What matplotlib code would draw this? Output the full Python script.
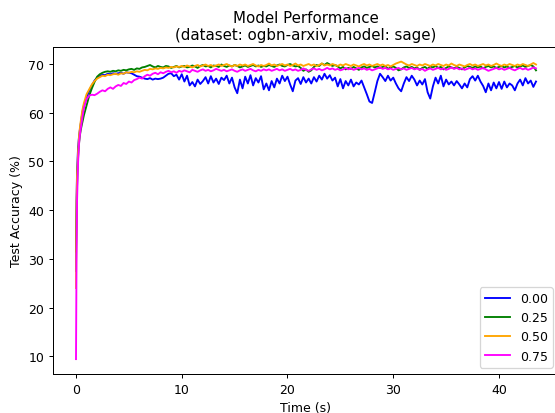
import numpy as np
import matplotlib
matplotlib.use('Agg')
import matplotlib.pyplot as plt

# time stamps (s): dense at start, then every 0.25 s
t_early = [0.0, 0.05, 0.1, 0.2, 0.3, 0.4, 0.5, 0.6, 0.75, 1.0, 1.25, 1.5, 1.75]
t_rest = np.arange(2.0, 43.51, 0.25)
times = np.concatenate([t_early, t_rest])

labels = ['0.00', '0.25', '0.50', '0.75']
colors = ['blue', 'green', 'orange', 'magenta']

acc_000 = [27.5, 42.0, 48.0, 53.0, 55.5, 57.0, 58.5, 60.0, 61.5, 63.2, 64.5, 65.6, 66.6,
           67.2, 67.5, 67.8, 67.7, 68.0, 67.9, 68.1, 68.0,
           68.1, 68.2, 68.0, 68.3, 68.2, 68.1, 67.8, 67.5,
           67.4, 67.2, 67.0, 66.9, 67.1, 66.8, 67.0, 66.9,
           67.0, 67.2, 67.6, 68.0, 68.1, 67.5, 67.8, 66.8,
           67.9, 66.4, 67.6, 65.6, 66.3, 65.4, 66.8, 65.9,
           66.5, 67.3, 66.0, 67.5, 66.2, 67.0, 65.9, 67.2,
           66.7, 67.6, 66.0, 67.2, 65.2, 64.0, 66.8, 65.0,
           67.4, 66.0, 67.7, 65.6, 67.1, 66.2, 67.5, 64.8,
           66.0, 64.6, 66.5, 65.2, 67.0, 66.0, 67.6, 66.5,
           67.4, 65.8, 64.4, 66.6, 67.1, 65.9, 67.3, 66.2,
           67.0, 66.0, 67.3, 66.4, 67.6, 66.8, 68.0, 67.0,
           67.7, 66.6, 67.2, 65.4, 66.9, 65.0, 66.5, 65.6,
           66.8, 65.4, 66.2, 65.8, 66.6, 65.2, 63.8, 62.3,
           62.0, 64.2, 66.5, 68.0, 67.3, 66.5, 67.6, 66.6,
           67.2, 66.0, 65.0, 64.4, 66.0, 67.3, 66.5, 67.6,
           66.8, 65.6, 66.6, 65.8, 66.9, 64.2, 62.9, 65.4,
           67.2, 66.0, 67.6, 65.4, 66.8, 65.8, 66.4, 65.6,
           66.5, 65.8, 65.0, 66.0, 65.2, 66.9, 67.5, 66.6,
           67.6, 66.4, 65.5, 64.2, 66.0, 64.6, 66.2, 65.0,
           66.3, 64.9, 66.4, 65.2, 66.0, 65.6, 64.6, 66.0,
           66.8, 65.6, 67.1, 66.0, 66.6, 65.3, 66.4]

acc_025 = [31.5, 38.0, 45.0, 51.0, 54.0, 55.8, 57.0, 58.0, 59.5, 61.5, 63.5, 65.0, 66.3,
           67.4, 67.9, 68.2, 68.4, 68.5, 68.4, 68.6, 68.5,
           68.7, 68.6, 68.8, 68.7, 68.9, 69.0, 68.8, 69.1,
           69.0, 69.3, 69.4, 69.6, 69.8, 69.5, 69.3, 69.6,
           69.4, 69.3, 69.6, 69.5, 69.2, 69.4, 69.6, 69.3,
           69.5, 69.6, 69.3, 69.4, 69.7, 69.5, 69.2, 69.6,
           69.8, 69.5, 69.6, 69.3, 69.7, 69.6, 69.4, 69.9,
           69.6, 69.4, 69.7, 69.5, 69.8, 69.6, 69.3, 69.5,
           69.7, 69.4, 69.6, 69.8, 69.5, 69.7, 69.4, 69.6,
           69.5, 69.8, 69.6, 69.4, 69.7, 69.9, 69.6, 69.5,
           69.8, 70.0, 69.7, 69.5, 69.6, 69.2, 68.6, 68.9,
           68.4, 68.7, 69.4, 69.8, 69.6, 70.1, 69.8, 70.2,
           69.9, 69.6, 69.8, 69.5, 69.1, 69.4, 68.9, 69.2,
           69.0, 69.4, 69.1, 68.8, 69.3, 69.5, 69.2, 69.4,
           69.6, 69.3, 69.5, 69.2, 69.4, 69.6, 69.0, 69.3,
           69.5, 69.2, 68.7, 68.9, 69.3, 69.5, 69.2, 69.4,
           69.1, 69.3, 68.8, 69.2, 69.4, 69.0, 69.5, 69.3,
           69.6, 69.2, 69.4, 68.9, 69.2, 69.5, 69.3, 69.1,
           69.4, 69.2, 68.9, 69.3, 69.6, 69.4, 69.2, 69.5,
           69.3, 69.5, 69.1, 69.4, 69.6, 69.3, 69.5, 69.2,
           69.4, 69.6, 69.3, 69.5, 69.2, 69.4, 69.6, 69.3,
           69.5, 69.7, 69.4, 69.6, 69.8, 69.5, 68.7]

acc_050 = [24.0, 41.5, 47.0, 52.0, 55.5, 57.5, 59.0, 60.5, 62.0, 63.8, 64.8, 65.8, 66.5,
           67.0, 67.3, 67.6, 67.5, 67.8, 67.7, 67.9, 68.0,
           67.8, 68.1, 68.0, 68.3, 68.2, 68.4, 68.3, 68.5,
           68.4, 68.6, 68.8, 68.7, 69.0, 68.9, 69.1, 69.0,
           69.2, 69.1, 69.3, 69.2, 69.4, 69.3, 69.5, 69.4,
           69.6, 69.4, 69.7, 69.5, 69.3, 69.6, 69.8, 69.5,
           69.7, 69.9, 69.6, 69.8, 69.5, 69.7, 69.9, 69.6,
           69.8, 70.0, 69.7, 69.5, 69.8, 69.6, 69.9, 69.7,
           69.9, 69.6, 69.8, 70.0, 69.7, 69.5, 69.8, 69.6,
           69.8, 70.1, 69.7, 69.9, 69.6, 69.8, 70.0, 69.7,
           69.9, 69.6, 69.8, 70.1, 69.7, 69.9, 69.6, 69.8,
           70.0, 69.7, 69.9, 69.6, 69.8, 70.1, 69.7, 69.9,
           69.7, 70.0, 69.8, 69.6, 69.9, 69.7, 70.0, 69.8,
           69.6, 69.9, 69.7, 69.5, 69.8, 70.0, 69.7, 69.9,
           69.6, 69.8, 70.0, 69.7, 69.9, 69.6, 69.8, 69.5,
           69.8, 70.1, 70.3, 70.5, 70.2, 69.9, 69.7, 70.0,
           69.8, 69.6, 69.9, 69.7, 70.0, 69.8, 69.6, 69.9,
           69.7, 70.0, 69.8, 69.6, 69.9, 69.7, 70.1, 69.8,
           69.6, 69.9, 69.7, 69.5, 69.8, 70.0, 69.7, 69.9,
           69.6, 69.8, 70.0, 69.7, 69.9, 69.6, 69.8, 70.1,
           69.8, 69.6, 69.9, 69.7, 70.0, 69.8, 69.6, 69.9,
           69.7, 70.0, 69.8, 69.6, 69.9, 70.2, 69.9]

acc_075 = [9.4, 30.0, 42.0, 50.0, 54.0, 56.0, 57.5, 59.0, 61.0, 62.8, 63.5, 63.7, 63.6,
           63.9, 64.3, 64.6, 64.4, 64.9, 65.2, 64.9, 65.4,
           65.7, 65.5, 66.1, 65.9, 66.4, 66.2, 66.7, 66.9,
           67.2, 67.0, 67.5, 67.8, 67.6, 68.0, 68.2, 67.9,
           68.3, 68.1, 68.4, 68.6, 68.3, 68.5, 68.2, 68.6,
           68.4, 68.7, 68.5, 68.3, 68.8, 68.6, 68.4, 68.7,
           68.9, 68.6, 68.8, 68.5, 68.7, 69.0, 68.8, 68.6,
           68.8, 68.5, 68.7, 68.9, 68.6, 68.4, 68.7, 68.9,
           68.6, 68.8, 69.0, 68.7, 68.5, 68.8, 68.6, 68.9,
           68.7, 68.9, 68.6, 68.8, 69.0, 68.7, 68.9, 68.6,
           68.8, 69.0, 68.7, 68.9, 68.6, 68.8, 69.1, 68.8,
           68.6, 68.9, 69.1, 68.8, 69.0, 68.7, 68.9, 69.2,
           68.9, 69.1, 68.8, 69.0, 68.7, 68.9, 69.2, 68.9,
           69.1, 68.8, 69.0, 69.2, 68.9, 69.1, 68.8, 69.0,
           68.7, 68.9, 69.1, 69.3, 69.0, 69.2, 68.9, 69.1,
           68.8, 69.0, 69.2, 68.9, 69.1, 68.8, 69.0, 69.2,
           68.9, 69.1, 68.8, 69.0, 68.6, 68.9, 69.1, 68.8,
           69.0, 69.2, 68.9, 69.1, 68.8, 69.0, 69.3, 69.0,
           69.2, 68.9, 69.1, 68.8, 69.0, 69.2, 68.9, 69.1,
           68.8, 69.0, 69.2, 68.9, 68.6, 68.8, 69.0, 69.2,
           68.9, 69.1, 68.8, 69.0, 69.2, 68.9, 68.7, 69.0,
           69.2, 68.9, 69.1, 68.8, 69.0, 69.3, 69.1]

series = [acc_000, acc_025, acc_050, acc_075]


def main():
    # lower dpi -> text and lines a touch smaller, like the reference
    fig = plt.figure(figsize=(555/90, 414/90), dpi=90)
    ax = fig.add_axes([53/555, 39/414, 506/555, 327.3/414])

    for lab, col, acc in zip(labels, colors, series):
        ax.plot(times, acc, color=col, label=lab)

    ax.set_xlabel('Time (s)')
    ax.set_ylabel('Test Accuracy (%)')
    ax.set_title('Model Performance\n(dataset: ogbn-arxiv, model: sage)')
    ax.legend(loc='lower right')

    fig.savefig('out.png', dpi=90)


if __name__ == '__main__':
    main()
